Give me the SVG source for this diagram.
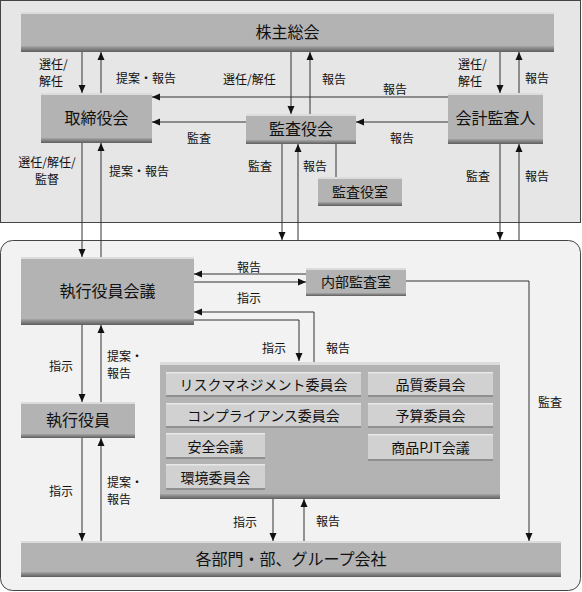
<svg xmlns="http://www.w3.org/2000/svg" width="582" height="592" viewBox="0 0 582 592">
<style>
text{font-family:"Noto Sans CJK JP","Noto Sans",sans-serif;fill:#111;dominant-baseline:central}
.n{font-size:16px;text-anchor:middle}
.s{font-size:14px;text-anchor:middle}
.l{font-size:12px}
.body{fill:#b3b3b3}
.hi{fill:#dcdcdc}
.lo{fill:url(#lo)}
.item{fill:#d1d1d1}
.ihi{fill:#e8e8e8}
.ilo{fill:#909090}
.c line,.c path{stroke:#333;stroke-width:1;fill:none}
</style>
<defs>
<linearGradient id="lo" x1="0" y1="0" x2="0" y2="1">
<stop offset="0" stop-color="#a6a6a6"/>
<stop offset="1" stop-color="#5e5e5e"/>
</linearGradient>
<marker id="a" viewBox="0 0 8 8" refX="8" refY="4" markerWidth="8" markerHeight="8" markerUnits="userSpaceOnUse" orient="auto">
<path d="M0,0.5 L8,4 L0,7.5 Z" fill="#111"/>
</marker>
</defs>
<rect x="0.5" y="0.5" width="580" height="222" fill="#e6e6e6" stroke="#444"/>
<rect x="0.5" y="240.5" width="580" height="350" rx="12" fill="#f2f2f2" stroke="#444"/>

<g class="c" marker-end="url(#a)">
<line x1="82" y1="52" x2="82" y2="93"/>
<line x1="101" y1="93" x2="101" y2="52"/>
<line x1="291" y1="52" x2="291" y2="114"/>
<line x1="310" y1="114" x2="310" y2="52"/>
<line x1="500" y1="52" x2="500" y2="93"/>
<line x1="519" y1="93" x2="519" y2="52"/>
<line x1="448" y1="97" x2="152" y2="97"/>
<line x1="246" y1="122" x2="152" y2="122"/>
<line x1="448" y1="122" x2="356" y2="122"/>
<line x1="336" y1="144" x2="336" y2="177" marker-end="none"/>
<line x1="82" y1="143" x2="82" y2="257"/>
<line x1="101" y1="257" x2="101" y2="143"/>
<line x1="282" y1="144" x2="282" y2="240"/>
<line x1="298" y1="240" x2="298" y2="144"/>
<line x1="500" y1="144" x2="500" y2="240"/>
<line x1="519" y1="240" x2="519" y2="144"/>
<line x1="306" y1="274" x2="194" y2="274"/>
<line x1="194" y1="282" x2="306" y2="282"/>
<path d="M314,362 V312 H194"/>
<path d="M194,320 H299 V361"/>
<line x1="82" y1="325" x2="82" y2="402"/>
<line x1="101" y1="402" x2="101" y2="325"/>
<line x1="82" y1="438" x2="82" y2="541"/>
<line x1="101" y1="541" x2="101" y2="438"/>
<line x1="273" y1="499" x2="273" y2="541"/>
<line x1="304" y1="541" x2="304" y2="499"/>
<path d="M406,281 H529 V541"/>
</g>

<g id="kabunushi"><rect class="body" x="21" y="12" width="533" height="40"/><rect class="hi" x="21" y="12" width="533" height="2"/><rect class="lo" x="21" y="46" width="533" height="6"/><text class="n" x="287.5" y="31">株主総会</text></g>
<g id="torishimari"><rect class="body" x="41" y="93" width="111" height="50"/><rect class="hi" x="41" y="93" width="111" height="2"/><rect class="lo" x="41" y="138" width="111" height="5"/><text class="n" x="96.5" y="117">取締役会</text></g>
<g id="kansayakukai"><rect class="body" x="246" y="114" width="110" height="30"/><rect class="hi" x="246" y="114" width="110" height="2"/><rect class="lo" x="246" y="140" width="110" height="4"/><text class="n" x="301" y="128">監査役会</text></g>
<g id="kaikei"><rect class="body" x="448" y="93" width="95" height="51"/><rect class="hi" x="448" y="93" width="95" height="2"/><rect class="lo" x="448" y="139" width="95" height="5"/><text class="n" x="495.5" y="117">会計監査人</text></g>
<g id="kansayakushitsu"><rect class="body" x="318" y="177" width="84" height="29"/><rect class="hi" x="318" y="177" width="84" height="2"/><rect class="lo" x="318" y="202" width="84" height="4"/><text class="s" x="360" y="191">監査役室</text></g>
<g id="shikkoukaigi"><rect class="body" x="21" y="257" width="173" height="68"/><rect class="hi" x="21" y="257" width="173" height="2"/><rect class="lo" x="21" y="319" width="173" height="6"/><text class="n" x="107.5" y="290">執行役員会議</text></g>
<g id="naibu"><rect class="body" x="306" y="268" width="100" height="28"/><rect class="hi" x="306" y="268" width="100" height="2"/><rect class="lo" x="306" y="293" width="100" height="3"/><text class="s" x="356" y="281">内部監査室</text></g>
<g id="shikkouyakuin"><rect class="body" x="21" y="402" width="114" height="36"/><rect class="hi" x="21" y="402" width="114" height="2"/><rect class="lo" x="21" y="434" width="114" height="4"/><text class="n" x="78" y="419">執行役員</text></g>
<g id="iinkai">
<rect class="body" x="160" y="362" width="340" height="137"/><rect class="hi" x="160" y="362" width="340" height="3"/><rect class="lo" x="160" y="494" width="340" height="5"/>
<rect class="item" x="166" y="372" width="195" height="25"/><rect class="ihi" x="166" y="372" width="195" height="1.5"/><rect class="ilo" x="166" y="395" width="195" height="2"/><text class="s" x="263.5" y="384">リスクマネジメント委員会</text>
<rect class="item" x="368" y="372" width="125" height="25"/><rect class="ihi" x="368" y="372" width="125" height="1.5"/><rect class="ilo" x="368" y="395" width="125" height="2"/><text class="s" x="430.5" y="384">品質委員会</text>
<rect class="item" x="166" y="403" width="195" height="25"/><rect class="ihi" x="166" y="403" width="195" height="1.5"/><rect class="ilo" x="166" y="426" width="195" height="2"/><text class="s" x="263.5" y="415">コンプライアンス委員会</text>
<rect class="item" x="368" y="403" width="125" height="25"/><rect class="ihi" x="368" y="403" width="125" height="1.5"/><rect class="ilo" x="368" y="426" width="125" height="2"/><text class="s" x="430.5" y="415">予算委員会</text>
<rect class="item" x="166" y="433" width="99" height="26"/><rect class="ihi" x="166" y="433" width="99" height="1.5"/><rect class="ilo" x="166" y="457" width="99" height="2"/><text class="s" x="215.5" y="446">安全会議</text>
<rect class="item" x="368" y="434" width="125" height="27"/><rect class="ihi" x="368" y="434" width="125" height="1.5"/><rect class="ilo" x="368" y="459" width="125" height="2"/><text class="s" x="430.5" y="447">商品PJT会議</text>
<rect class="item" x="166" y="464" width="99" height="26"/><rect class="ihi" x="166" y="464" width="99" height="1.5"/><rect class="ilo" x="166" y="488" width="99" height="2"/><text class="s" x="215.5" y="477">環境委員会</text>
</g>
<g id="kakubumon"><rect class="body" x="21" y="541" width="540" height="36"/><rect class="hi" x="21" y="541" width="540" height="2"/><rect class="lo" x="21" y="572" width="540" height="5"/><text class="n" x="291" y="558">各部門・部、グループ会社</text></g>

<g id="labels" class="l">
<text x="39" y="63">選任/</text><text x="39" y="80">解任</text>
<text x="116" y="77">提案・報告</text>
<text x="223" y="78">選任/解任</text>
<text x="322" y="78">報告</text>
<text x="383" y="88">報告</text>
<text x="458" y="63">選任/</text><text x="458" y="80">解任</text>
<text x="525" y="77">報告</text>
<text x="187" y="137">監査</text>
<text x="390" y="137">報告</text>
<text x="47" y="161" text-anchor="middle">選任/解任/</text><text x="47" y="178" text-anchor="middle">監督</text>
<text x="109" y="170">提案・報告</text>
<text x="248" y="165">監査</text>
<text x="303" y="165">報告</text>
<text x="466" y="175">監査</text>
<text x="525" y="175">報告</text>
<text x="237" y="266">報告</text>
<text x="237" y="297">指示</text>
<text x="262" y="347">指示</text>
<text x="326" y="347">報告</text>
<text x="49" y="365">指示</text>
<text x="107" y="355">提案・</text><text x="107" y="372">報告</text>
<text x="538" y="401">監査</text>
<text x="49" y="490">指示</text>
<text x="107" y="481">提案・</text><text x="107" y="498">報告</text>
<text x="233" y="521">指示</text>
<text x="316" y="520">報告</text>
</g>
</svg>
